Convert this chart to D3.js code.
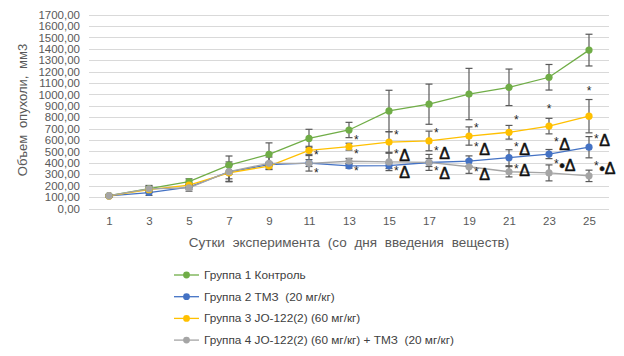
<!DOCTYPE html>
<html>
<head>
<meta charset="utf-8">
<script src="https://cdn.jsdelivr.net/npm/d3@7"></script>
<style>
  body { margin: 0; background: #fff; }
  svg { font-family: "Liberation Sans", Arial, sans-serif; }
  text { white-space: pre; }
</style>
</head>
<body>
<div id="chart"></div>
<script>
// Days of the experiment
const days = [1, 3, 5, 7, 9, 11, 13, 15, 17, 19, 21, 23, 25];

// Mean tumour volume, mm3
const group1 = [112, 175, 235, 380, 475, 614, 688, 855, 914, 1003, 1062, 1150, 1388];
const group2 = [110, 140, 188, 320, 385, 398, 373, 375, 403, 416, 445, 477, 537];
const group3 = [110, 165, 205, 312, 372, 510, 542, 582, 592, 635, 668, 722, 809];
const group4 = [112, 172, 182, 323, 396, 396, 414, 408, 404, 366, 322, 312, 286];

// Error bar half-widths
const err1 = [8, 20, 25, 80, 100, 80, 67, 181, 176, 225, 160, 112, 139];
const err2 = [8, 25, 20, 60, 20, 30, 20, 25, 35, 45, 70, 40, 93];
const err3 = [8, 20, 20, 78, 25, 35, 30, 90, 86, 80, 60, 68, 146];
const err4 = [8, 30, 30, 85, 55, 68, 25, 76, 70, 58, 45, 70, 50];

const seriesNames = [
  'Группа 1 Контроль',
  'Группа 2 ТМЗ  (20 мг/кг)',
  'Группа 3 JO-122(2) (60 мг/кг)',
  'Группа 4 JO-122(2) (60 мг/кг) + ТМЗ  (20 мг/кг)'
];
const seriesColors = ['#70AD47', '#4472C4', '#FFC000', '#A5A5A5'];

// Significance marks: day, anchor value, text, placement
const markDays = [11, 11, 13, 13, 13, 15, 15, 15, 17, 17, 17, 19, 19, 19, 21, 21, 21, 23, 23, 23, 25, 25, 25];
const markValues = [486, 329, 620, 498, 343, 659, 498, 349, 682, 521, 343, 726, 556, 337, 796, 556, 366, 887, 600, 410, 1045, 629, 387];
const markTexts = ['*', '*', '*', '*', '*', '*', '*Δ', '*Δ', '*', '*Δ', '*Δ', '*', '*Δ', '*Δ', '*', '*Δ', '*Δ', '*', '*Δ', '*•Δ', '*', '*Δ', '*•Δ'];
const markCentered = [0, 0, 0, 0, 0, 0, 0, 0, 0, 0, 0, 0, 0, 0, 0, 0, 0, 1, 0, 0, 1, 0, 0];

const yTicks = d3.range(0, 1701, 100);

const width = 624, height = 356;
const svg = d3.select('#chart').append('svg')
  .attr('width', width)
  .attr('height', height);

const x = d3.scalePoint()
  .domain(days)
  .range([89, 609])
  .padding(0.5);

const y = d3.scaleLinear()
  .domain([0, 1700])
  .range([208.5, 14.5]);

const fmt = v => d3.format('.2f')(v).replace('.', ',');

// Gridlines
svg.append('g')
  .selectAll('line')
  .data(yTicks)
  .join('line')
  .attr('x1', 89)
  .attr('x2', 609)
  .attr('y1', d => Math.round(y(d)) + 0.5)
  .attr('y2', d => Math.round(y(d)) + 0.5)
  .attr('stroke', '#D9D9D9')
  .attr('stroke-width', 1);

// Y axis labels
const yAxis = d3.axisLeft(y)
  .tickValues(yTicks)
  .tickFormat(fmt)
  .tickSize(0)
  .tickPadding(9);
svg.append('g')
  .attr('transform', 'translate(89,0)')
  .call(yAxis)
  .call(g => g.select('.domain').remove())
  .call(g => g.selectAll('text')
    .attr('font-size', 11.5)
    .attr('fill', '#595959')
    .attr('font-family', '"Liberation Sans", Arial, sans-serif'));

// X axis labels
const xAxis = d3.axisBottom(x).tickSize(0).tickPadding(8);
svg.append('g')
  .attr('transform', 'translate(0,208.5)')
  .call(xAxis)
  .call(g => g.select('.domain').remove())
  .call(g => g.selectAll('text')
    .attr('font-size', 11.5)
    .attr('fill', '#595959')
    .attr('font-family', '"Liberation Sans", Arial, sans-serif'));

// Axis titles
svg.append('text')
  .attr('transform', 'translate(27,110) rotate(-90)')
  .attr('text-anchor', 'middle')
  .attr('font-size', 13)
  .attr('word-spacing', 3)
  .attr('fill', '#595959')
  .text('Объем опухоли, мм3');

svg.append('text')
  .attr('x', 349)
  .attr('y', 247)
  .attr('text-anchor', 'middle')
  .attr('font-size', 13.5)
  .attr('word-spacing', 4)
  .attr('fill', '#595959')
  .text('Сутки эксперимента (со дня введения веществ)');

const values = [group1, group2, group3, group4];
const errors = [err1, err2, err3, err4];
const series = values.map((vals, i) => ({
  name: seriesNames[i],
  color: seriesColors[i],
  points: days.map((d, j) => ({ day: d, value: vals[j], err: errors[i][j] }))
}));

const line = d3.line()
  .x(d => x(d.day))
  .y(d => y(d.value));

// Lines
svg.append('g')
  .selectAll('path')
  .data(series)
  .join('path')
  .attr('d', s => line(s.points))
  .attr('fill', 'none')
  .attr('stroke', s => s.color)
  .attr('stroke-width', 1.3);

// Error bars
const errG = svg.append('g')
  .attr('stroke', '#595959')
  .attr('stroke-width', 1.2);
series.forEach(s => {
  s.points.forEach(p => {
    const cx = x(p.day);
    const top = y(p.value + p.err);
    const bottom = y(p.value - p.err);
    errG.append('line').attr('x1', cx).attr('x2', cx).attr('y1', top).attr('y2', bottom);
    errG.append('line').attr('x1', cx - 3.5).attr('x2', cx + 3.5).attr('y1', top).attr('y2', top);
    errG.append('line').attr('x1', cx - 3.5).attr('x2', cx + 3.5).attr('y1', bottom).attr('y2', bottom);
  });
});

// Markers
series.forEach(s => {
  svg.append('g')
    .selectAll('circle')
    .data(s.points)
    .join('circle')
    .attr('cx', d => x(d.day))
    .attr('cy', d => y(d.value))
    .attr('r', 3.6)
    .attr('fill', s.color);
});

// Significance marks
markDays.forEach((d, i) => {
  const txt = markTexts[i];
  const cx = x(d) + (markCentered[i] ? 0 : 5);
  const cy = y(markValues[i]);
  const t = svg.append('text')
    .attr('x', cx)
    .attr('y', cy + 6)
    .attr('text-anchor', markCentered[i] ? 'middle' : 'start')
    .attr('fill', '#262626');
  t.append('tspan')
    .attr('font-size', 12)
    .attr('fill', '#262626')
    .text('*');
  if (txt.length > 1) {
    t.append('tspan')
      .attr('font-size', 16)
      .attr('fill', '#111')
      .attr('stroke', '#111')
      .attr('stroke-width', 0.5)
      .attr('dy', 3.5)
      .attr('dx', 0.5)
      .text(txt.slice(1));
  }
});

// Legend
const legend = svg.append('g');
series.forEach((s, i) => {
  const ly = 275 + i * 21.7;
  legend.append('line')
    .attr('x1', 174).attr('x2', 199)
    .attr('y1', ly).attr('y2', ly)
    .attr('stroke', s.color)
    .attr('stroke-width', 1.3);
  legend.append('circle')
    .attr('cx', 186.5).attr('cy', ly)
    .attr('r', 3.4)
    .attr('fill', s.color);
  legend.append('text')
    .attr('x', 204)
    .attr('y', ly + 4)
    .attr('font-size', 11.8)
    .attr('fill', '#404040')
    .text(s.name);
});
</script>
</body>
</html>
